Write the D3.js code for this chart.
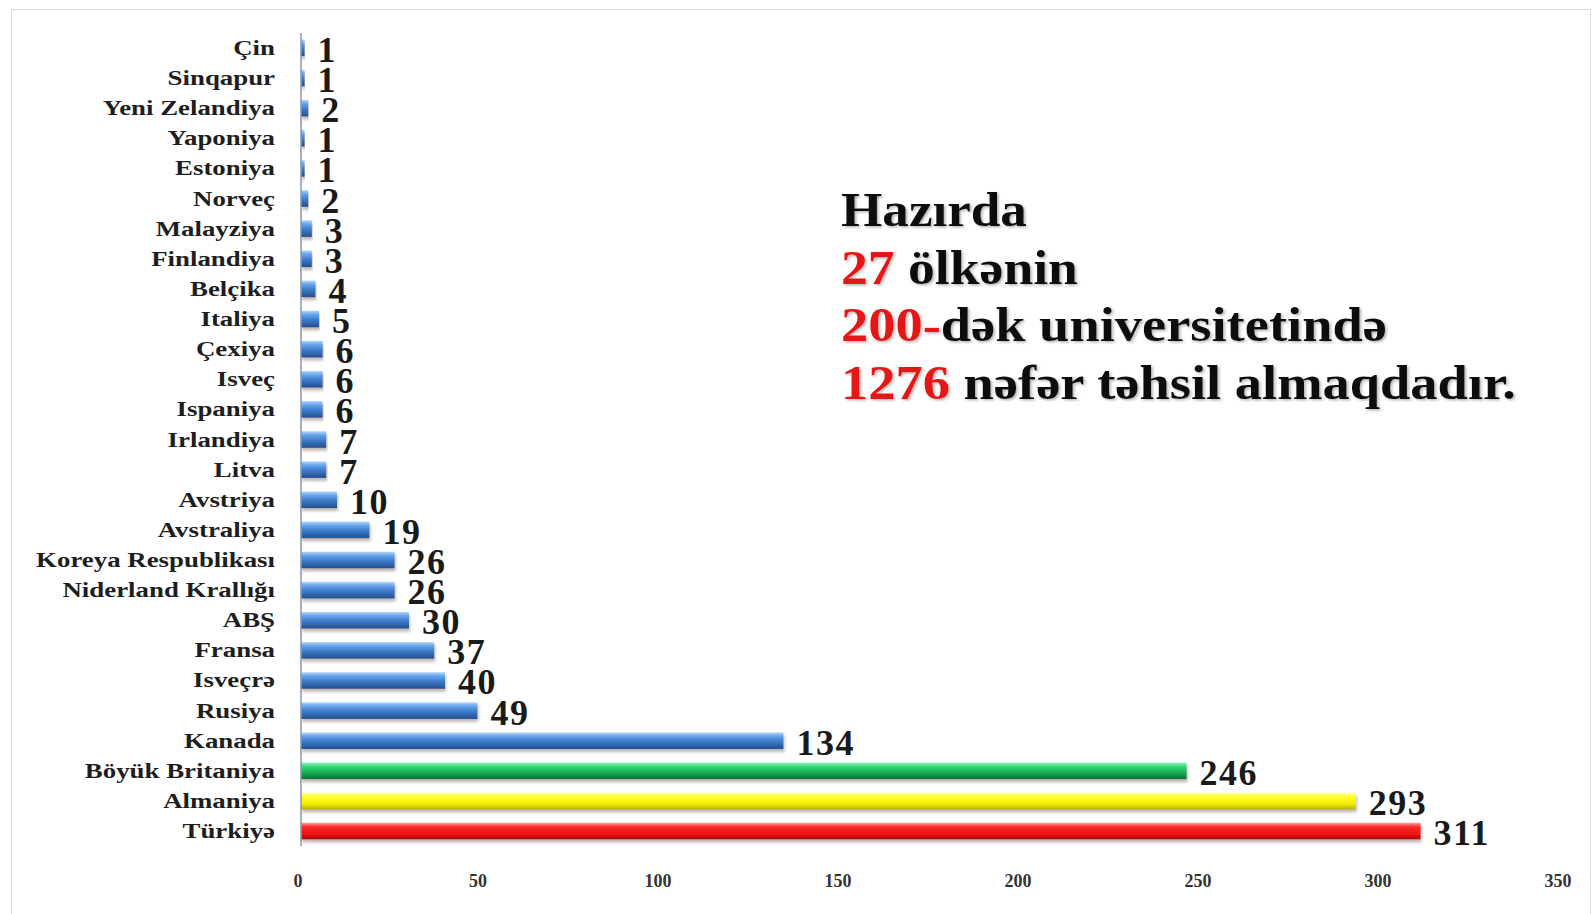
<!DOCTYPE html>
<html>
<head>
<meta charset="utf-8">
<script src="https://cdn.jsdelivr.net/npm/d3@7/dist/d3.min.js"></script>
<style>
  body { margin: 0; background: #fff; }
  svg { display: block; font-family: "Liberation Serif", "Times New Roman", serif; }
</style>
</head>
<body>
<svg width="1592" height="914"></svg>
<script>
// data, top to bottom as in the picture
var countries = ["Çin", "Sinqapur", "Yeni Zelandiya", "Yaponiya", "Estoniya", "Norveç",
  "Malayziya", "Finlandiya", "Belçika", "Italiya", "Çexiya", "Isveç", "Ispaniya",
  "Irlandiya", "Litva", "Avstriya", "Avstraliya", "Koreya Respublikası",
  "Niderland Krallığı", "ABŞ", "Fransa", "Isveçrə", "Rusiya", "Kanada",
  "Böyük Britaniya", "Almaniya", "Türkiyə"];
var students = [1, 1, 2, 1, 1, 2, 3, 3, 4, 5, 6, 6, 6, 7, 7, 10, 19, 26, 26, 30, 37, 40, 49, 134, 246, 293, 311];
var xTicks = [0, 50, 100, 150, 200, 250, 300, 350];

// annotation lines: [red part, black part]
var noteLines = [
  ["", "Hazırda"],
  ["27", " ölkənin"],
  ["200-", "dək universitetində"],
  ["1276", " nəfər təhsil almaqdadır."]
];

var svg = d3.select("svg"),
	width = +svg.attr("width"),
	height = +svg.attr("height");

var rows = countries.map(function (c, i) { return {name: c, value: students[i]}; });

var x = d3.scaleLinear().domain([0, 350]).range([301, 1561]);
var y = d3.scaleBand().domain(countries).range([33, 846]).paddingInner(0.45).paddingOuter(0.22);

// colours for the three leading countries, rest blue
var barFill = {"Türkiyə": "red", "Almaniya": "yellow", "Böyük Britaniya": "green"};

var defs = svg.append("defs");
var grads = {
	blue:   [["0", "#b4d6fa"], ["0.22", "#6aa6ec"], ["0.55", "#3d7bcb"], ["1", "#234f8c"]],
	green:  [["0", "#8ff5bd"], ["0.25", "#35d877"], ["0.65", "#16a552"], ["1", "#0c7038"]],
	yellow: [["0", "#ffffb0"], ["0.25", "#ffff2a"], ["0.7", "#f2ea00"], ["1", "#b5ad00"]],
	red:    [["0", "#ff9a9a"], ["0.25", "#ff2a2a"], ["0.7", "#e81212"], ["1", "#a80a0a"]]
};
Object.keys(grads).forEach(function (k) {
	var g = defs.append("linearGradient").attr("id", "g-" + k)
		.attr("x1", 0).attr("y1", 0).attr("x2", 0).attr("y2", 1);
	grads[k].forEach(function (s) {
		g.append("stop").attr("offset", s[0]).attr("stop-color", s[1]);
	});
});

var sh = defs.append("filter").attr("id", "shadow")
	.attr("x", "-5%").attr("y", "-50%").attr("width", "110%").attr("height", "220%");
sh.append("feDropShadow").attr("dx", 1).attr("dy", 3).attr("stdDeviation", 1.6)
	.attr("flood-color", "#8a7a70").attr("flood-opacity", 0.55);

var tsh = defs.append("filter").attr("id", "tshadow")
	.attr("x", "-10%").attr("y", "-20%").attr("width", "120%").attr("height", "140%");
tsh.append("feDropShadow").attr("dx", 1.5).attr("dy", 1.5).attr("stdDeviation", 1.2)
	.attr("flood-color", "#777").attr("flood-opacity", 0.55);

// dotted frame
svg.append("rect")
	.attr("x", 11.5).attr("y", 9.5).attr("width", 1579).attr("height", 920)
	.attr("fill", "none").attr("stroke", "#b8b8b8").attr("stroke-dasharray", "1,1");

// bottom axis line with a little shadow
svg.append("line")
	.attr("x1", x(0)).attr("x2", 1562).attr("y1", 846).attr("y2", 846)
	.attr("stroke", "#a9a9a9").attr("stroke-width", 2)
	.attr("filter", "url(#shadow)");

// bars
svg.selectAll(".bar")
	.data(rows)
	.enter()
	.append("rect")
	.attr("class", "bar")
	.attr("x", x(0))
	.attr("y", function (d) { return y(d.name); })
	.attr("width", function (d) { return x(d.value) - x(0); })
	.attr("height", y.bandwidth())
	.attr("fill", function (d) { return "url(#g-" + (barFill[d.name] || "blue") + ")"; })
	.attr("filter", "url(#shadow)");

// vertical axis line
svg.append("line")
	.attr("x1", x(0)).attr("x2", x(0)).attr("y1", 33).attr("y2", 846)
	.attr("stroke", "#8796ab").attr("stroke-width", 1.5);

// category labels
var catLabels = svg.selectAll(".cat")
	.data(rows)
	.enter()
	.append("text")
	.attr("class", "cat")
	.attr("x", 0)
	.attr("y", 0)
	.attr("text-anchor", "end")
	.attr("font-weight", "bold")
	.attr("font-size", 21)
	.attr("fill", "#1e1e1e")
	.text(function (d) { return d.name; });

// stretch labels horizontally like the original
var kor = catLabels.filter(function (d) { return d.name == "Koreya Respublikası"; }).node();
var sxCat = 239 / kor.getComputedTextLength();
catLabels.attr("transform", function (d) {
	return "translate(275," + (y(d.name) + y.bandwidth() / 2 + 7) + ") scale(" + sxCat + ",1)";
});

// value labels
svg.selectAll(".val")
	.data(rows)
	.enter()
	.append("text")
	.attr("class", "val")
	.attr("x", function (d) { return x(d.value) + 13; })
	.attr("y", function (d) { return y(d.name) + y.bandwidth() / 2 + 14; })
	.attr("font-weight", "bold")
	.attr("font-size", 36)
	.attr("letter-spacing", 1.5)
	.attr("fill", "#1a1a1a")
	.text(function (d) { return d.value; });

// x tick labels
svg.selectAll(".tick-label")
	.data(xTicks)
	.enter()
	.append("text")
	.attr("class", "tick-label")
	.attr("x", function (d) { return x(d) - 3; })
	.attr("y", 887)
	.attr("text-anchor", "middle")
	.attr("font-weight", "bold")
	.attr("font-size", 18)
	.attr("fill", "#333")
	.text(function (d) { return d; });

// annotation block
var noteWidths = [186, 237, 546, 675];
noteLines.forEach(function (ln, i) {
	var t = svg.append("text")
		.attr("font-weight", "bold")
		.attr("font-size", 48)
		.attr("filter", "url(#tshadow)");
	if (ln[0]) t.append("tspan").attr("fill", "#e41414").text(ln[0]);
	t.append("tspan").attr("fill", "#111").text(ln[1]);
	var w = t.node().getComputedTextLength();
	t.attr("transform", "translate(841," + (226 + i * 57.7) + ") scale(" + (noteWidths[i] / w) + ",1)");
});
</script>
</body>
</html>
